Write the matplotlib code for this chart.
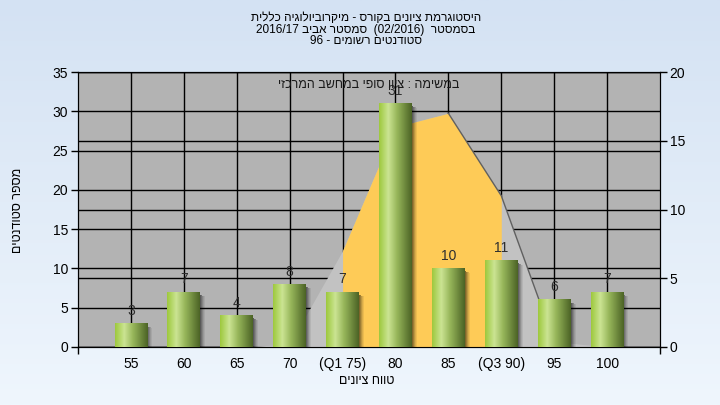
import re
import numpy as np
import matplotlib
matplotlib.use('Agg')
import matplotlib.pyplot as plt
from matplotlib.colors import LinearSegmentedColormap
from matplotlib.patches import Rectangle

# histogram data
categories = ['55', '60', '65', '70', '(Q1 75)', '80', '85', '(Q3 90)', '95', '100']
students = [3, 7, 4, 8, 7, 31, 10, 11, 6, 7]
# distribution curve, right axis
curve = [0, 0, 0, 0.2, 7.0, 16.0, 17.0, 11.0, 0.4, 0]
q1_idx, q3_idx = 4, 7

title_lines = ['היסטוגרמת ציונים בקורס - מיקרוביולוגיה כללית',
               'בסמסטר  (02/2016)  סמסטר אביב 2016/17',
               'סטודנטים רשומים - 96']
note = 'במשימה : ציון סופי במחשב המרכזי'
xlab = 'טווח ציונים'
ylab = 'מספר סטודנטים'


def rtl(s):
    # matplotlib has no bidi, so lay hebrew out in visual order by hand
    s = s[::-1]
    s = re.sub(r'[0-9A-Za-z/.]+', lambda m: m.group(0)[::-1], s)
    return s.translate(str.maketrans('()', ')('))


plt.rcParams['font.family'] = ['Liberation Sans Narrow', 'Liberation Sans', 'DejaVu Sans']
plt.rcParams['font.size'] = 10

fig = plt.figure(figsize=(7.2, 4.05), dpi=100)

# light blue page gradient
bg = fig.add_axes([0, 0, 1, 1], zorder=-10)
bgmap = LinearSegmentedColormap.from_list('bg', ['#eff6fd', '#d4e2f3'])
bg.imshow(np.linspace(0, 1, 256).reshape(-1, 1)[::-1], cmap=bgmap, aspect='auto', extent=[0, 1, 0, 1])
bg.axis('off')

x = np.arange(len(categories))

ax = fig.add_axes([78/720, 1-347/405, 582/720, 275/405])
ax.set_facecolor('#b3b3b3')
ax.set_xlim(-1, len(categories))
ax.set_ylim(0, 35)
ax.set_yticks(np.arange(0, 36, 5))
ax.set_xticks(x)
ax.set_xticklabels(categories)
ax.set_xticks([-1, len(categories)], minor=True)
ax.tick_params(axis='x', which='major', length=0, pad=7)
ax.tick_params(axis='x', which='minor', length=5, width=1)
ax.tick_params(axis='y', length=5, width=1, pad=2)
ax.grid(True, color='black', lw=1)
ax.set_axisbelow(True)
for sp in ax.spines.values():
    sp.set_color('black')

# right axis + curve area
ax2 = ax.twinx()
ax2.set_ylim(0, 20)
ax2.set_yticks(np.arange(0, 21, 5))
ax2.tick_params(axis='y', length=5, width=1, pad=2)
ax2.grid(True, axis='y', color='black', lw=1)
ax2.set_axisbelow(True)
ax2.fill_between(x, curve, color='#c2c2c2', lw=0)
ax2.fill_between(x[q1_idx:q3_idx+1], curve[q1_idx:q3_idx+1], color='#fecb57', lw=0)
ax2.plot(x[q1_idx+2:q3_idx+2], curve[q1_idx+2:q3_idx+2], color='#606060', lw=1)
ax2.set_xlim(-1, len(categories))

# bars on their own layer so they sit over the area
ax3 = ax.twinx()
ax3.set_ylim(0, 35)
ax3.set_axis_off()
bars = ax3.bar(x, students, width=0.62, color='none', lw=0, zorder=3)
gmap = LinearSegmentedColormap.from_list('g', [(0, '#9ec93e'), (0.28, '#cbe493'),
                                               (0.55, '#97b65a'), (1, '#4c6426')])
grad = np.linspace(0, 1, 64).reshape(1, -1)
px = len(categories) + 1
for b in bars:
    x0, w, h = b.get_x(), b.get_width(), b.get_height()
    ax3.imshow(grad, cmap=gmap, aspect='auto', extent=[x0, x0+w, 0, h], zorder=3)
    # soft shadow to the right
    for k, a in enumerate([0.5, 0.38, 0.26, 0.15, 0.07]):
        ax3.add_patch(Rectangle((x0+w + k*11/582, 0), 11/582, h - 0.35 - k*0.05,
                                color='black', alpha=a, lw=0, zorder=2.5))
ax3.bar_label(bars, padding=4, fontsize=10, color='#2e2e2e')
ax3.set_xlim(-1, len(categories))
ax3.set_ylim(0, 35)

ax3.text(0.5, 0.954, rtl(note), transform=ax3.transAxes, ha='center', va='center',
         fontsize=9, color='#1a1a1a', zorder=5)

for i, (t, yy) in enumerate(zip(title_lines, [18, 29.5, 40.5])):
    fig.text(366/720, 1-yy/405, rtl(t), ha='center', va='center', fontsize=8.5)

fig.text(367/720, 1-381/405, rtl(xlab), ha='center', va='center', fontsize=9)
fig.text(18/720, 1-210/405, rtl(ylab), ha='center', va='center', fontsize=9, rotation=90)

fig.savefig('out.png', dpi=100)
